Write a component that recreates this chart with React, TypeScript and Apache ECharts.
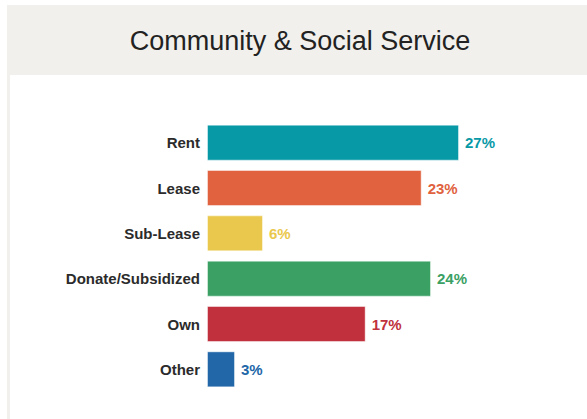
import React, { useEffect, useRef } from "react";
import * as echarts from "echarts";

const titleText = "Community & Social Service";
const categories = ["Rent", "Lease", "Sub-Lease", "Donate/Subsidized", "Own", "Other"];
const values = [27, 23, 6, 24, 17, 3];
const colors = ["#0899a7", "#e0623e", "#eac84d", "#3aa063", "#c0313d", "#2267a8"];

export default function App() {
  const ref = useRef<HTMLDivElement>(null);
  useEffect(() => {
    if (!ref.current) return;
    const chart = echarts.init(ref.current, undefined, { renderer: "svg" });
    const font = "'Liberation Sans', Arial, Helvetica, sans-serif";
    chart.setOption({
      animation: false,
      backgroundColor: "#ffffff",
      textStyle: { fontFamily: font },
      graphic: [
        { type: "rect", shape: { x: 7, y: 5, width: 580, height: 70 }, style: { fill: "#f1f0ec" }, z: -1 },
        { type: "rect", shape: { x: 7, y: 75, width: 3, height: 344 }, style: { fill: "#f1f0ec" }, z: -1 },
        {
          type: "text",
          x: 300,
          y: 41,
          style: {
            text: titleText,
            fill: "#222222",
            font: `normal 27px ${font}`,
            textAlign: "center",
            textVerticalAlign: "middle",
          },
        },
      ],
      grid: { left: 207, right: 100, top: 120, bottom: 27, containLabel: false },
      xAxis: {
        type: "value",
        min: 0,
        max: 30,
        show: false,
      },
      yAxis: {
        type: "category",
        data: categories,
        inverse: true,
        axisLine: { show: false },
        axisTick: { show: false },
        splitLine: { show: false },
        axisLabel: {
          margin: 7,
          color: "#2b2b2b",
          fontWeight: "bold",
          fontSize: 15,
          fontFamily: font,
        },
      },
      series: [
        {
          type: "bar",
          barWidth: 36,
          data: values.map((v, i) => ({
            value: v,
            itemStyle: { color: colors[i], borderColor: "rgba(255,255,255,0.45)", borderWidth: 1 },
            label: { color: colors[i] },
          })),
          label: {
            show: true,
            position: "right",
            distance: 6,
            formatter: "{c}%",
            fontWeight: "bold",
            fontSize: 15,
            fontFamily: font,
          },
        },
      ],
    });
    return () => chart.dispose();
  }, []);
  return (
    <div
      ref={ref}
      style={{ position: "fixed", left: 0, top: 0, width: 587, height: 419 }}
    />
  );
}
